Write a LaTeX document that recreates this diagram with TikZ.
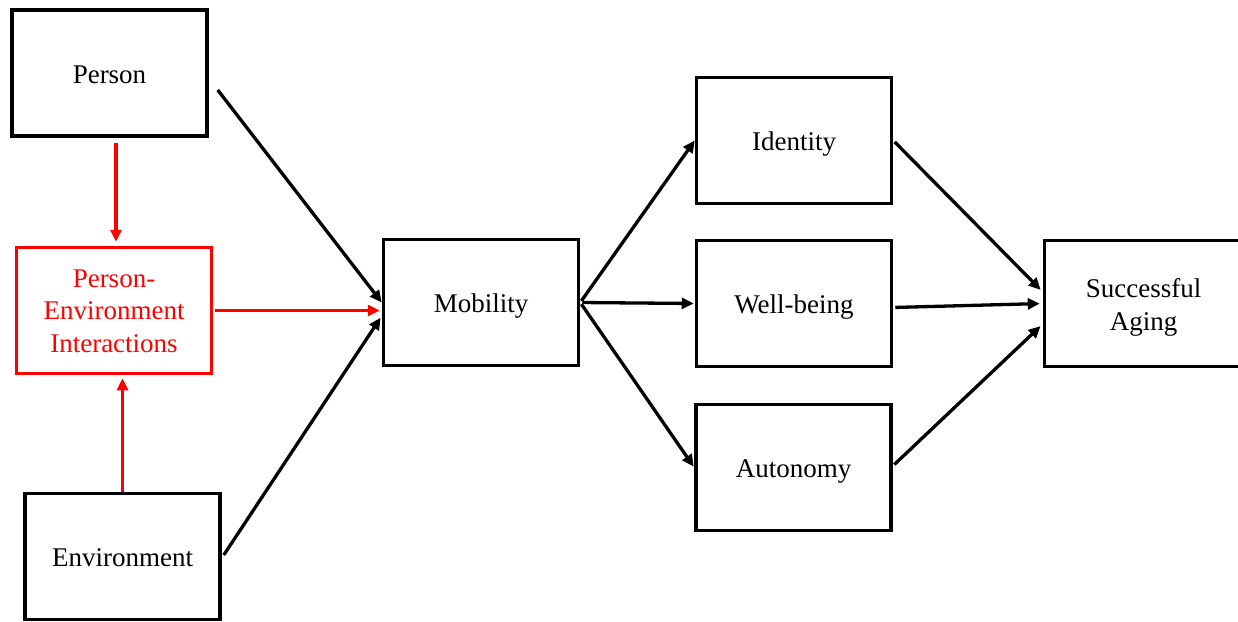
\documentclass[tikz,border=0pt]{standalone}
\usepackage{fontspec}
\setmainfont{Liberation Serif}
\usetikzlibrary{arrows.meta,calc}
\begin{document}
\begin{tikzpicture}[x=1pt,y=-1pt,
  box/.style={draw=black,line width=3.5pt,minimum width=195pt,minimum height=126pt,
    align=center,inner sep=0pt,font=\fontsize{27}{32.5}\selectfont,
    text height=20pt,text depth=0pt},
  redbox/.style={box,draw=red,text=red},
  link/.style={line width=3.3pt,-{Triangle[length=12pt,width=11pt]}},
  redlink/.style={link,draw=red,-{Triangle[length=12pt,width=11pt,fill=red]}}]
\useasboundingbox (0,0) rectangle (1238,621);

% left column
\node[box] (person) at (109.5,73) {Person};
\node[redbox,text height=83pt] (pei) at (114,310.5) {Person-\\Environment\\Interactions};
\node[box] (env) at (122.5,556.5) {Environment};

% centre and outcomes
\node[box] (mob) at (481,302.5) {Mobility};
\node[box] (ident) at (794,140.5) {Identity};
\node[box] (well) at (794,303.5) {Well-being};
\node[box] (auto) at (793.5,467.5) {Autonomy};
\node[box,minimum width=198pt,text height=53pt] (sa) at (1143.5,303.5) {Successful\\Aging};

% red links into and out of the interaction box
\draw[redlink,shorten <=5pt,shorten >=4pt] ([xshift=6.5]person.south) -- ([xshift=2]pei.north);
\draw[redlink,shorten >=3pt] (env.north) -- (env.north |- pei.south);
\draw[redlink,shorten <=2pt,shorten >=2pt] (pei.east) -- (pei.east -| mob.west);

% links into mobility
\draw[link] ([shift={(9,17)}]person.east) -- (mob.west);
\draw[link,shorten >=2pt] ([shift={(2,-1.5)}]env.east) -- ([yshift=-13.5]mob.west);

% mobility to outcomes
\draw[link,shorten <=2pt] (mob.east) -- (ident.west);
\draw[link,shorten <=2pt,shorten >=1pt] (mob.east) -- (well.west);
\draw[link,shorten <=2pt,shorten >=1pt] (mob.east) -- (auto.west);

% outcomes to successful aging
\draw[link,shorten <=2pt,shorten >=3pt] (ident.east) -- ([yshift=11.5]sa.west);
\draw[link,shorten <=2pt,shorten >=3pt] ([yshift=-4]well.east) -- (sa.west);
\draw[link,shorten <=2pt,shorten >=3pt] ([yshift=1.5]auto.east) -- ([yshift=-20.5]sa.west);
\end{tikzpicture}
\end{document}
